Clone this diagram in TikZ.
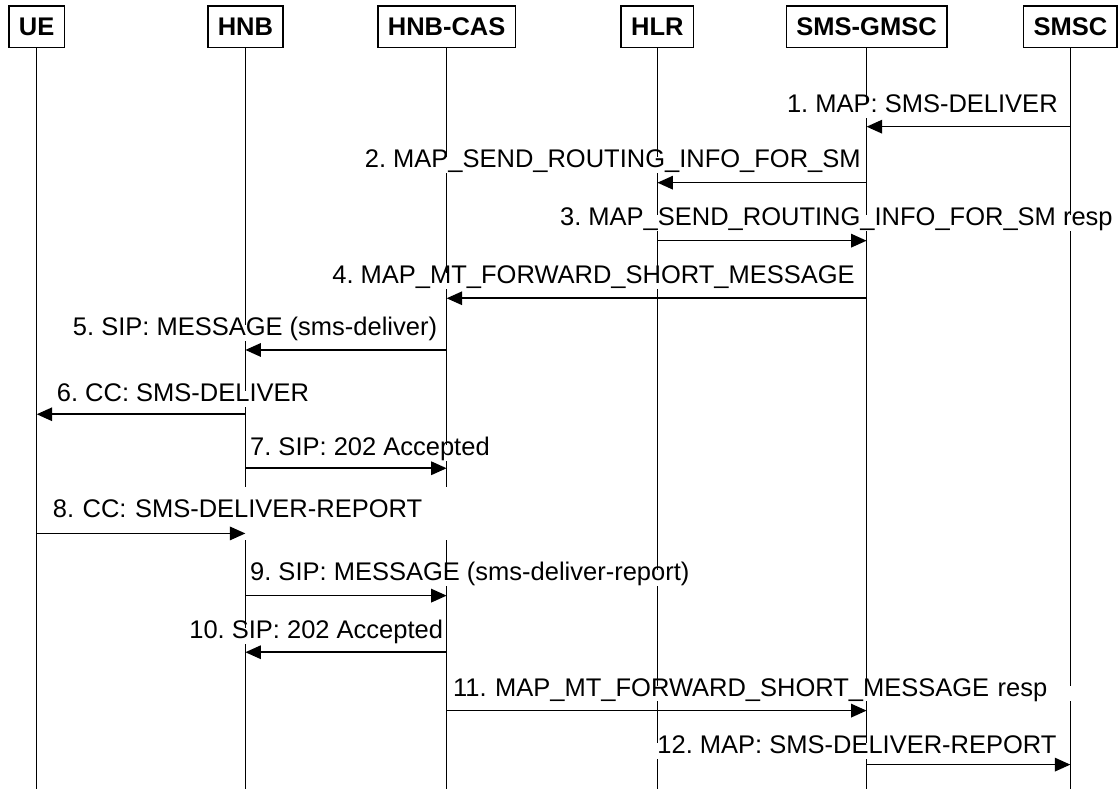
\documentclass[tikz,border=0pt]{standalone}
\usepackage{fontspec}
\setmainfont{Liberation Sans}
\usetikzlibrary{arrows.meta,positioning,backgrounds}
\frenchspacing

\begin{document}
\begin{tikzpicture}[
  x=1pt,y=-1pt,
  line cap=butt,
  >={Triangle[length=15.5pt,width=13.5pt]},
  every node/.style={font=\fontsize{25.5pt}{30pt}\selectfont},
  entity/.style={draw=black,line width=1.6pt,fill=white,inner xsep=10pt,inner ysep=0pt,
    minimum height=41.5pt,font=\fontsize{25.5pt}{30pt}\selectfont\bfseries},
  lifeline/.style={black,line width=1.6pt},
  message/.style={black,line width=1.6pt,->},
  msgtext/.style={fill=white,inner xsep=2pt,inner ysep=3pt,text height=.75em,text depth=.22em}
]
% Bounding box.
\path (0,0) rectangle (1118,789);

% The six entities.
\node[entity] (ue)   at (36.7,26.75)  {UE};
\node[entity] (hnb)  at (245.4,26.75) {HNB};
\node[entity] (cas)  at (446.7,26.75) {HNB-CAS};
\node[entity] (hlr)  at (657.5,26.75) {HLR};
\node[entity] (gmsc) at (866.7,26.75) {SMS-GMSC};
\node[entity] (smsc) at (1070.5,26.75) {SMSC};
\coordinate (bottom) at (0,789);

% Heights of the messages.
\coordinate (y1) at (0,126.7);
\coordinate (y2) at (0,182.7);
\coordinate (y3) at (0,240.7);
\coordinate (y4) at (0,298.3);
\coordinate (y5) at (0,350);
\coordinate (y6) at (0,414.3);
\coordinate (y7) at (0,468.3);
\coordinate (y8) at (0,533.5);
\coordinate (y9) at (0,595.7);
\coordinate (y10) at (0,652.3);
\coordinate (y11) at (0,710.7);
\coordinate (y12) at (0,764.7);

% Message texts; the white fill cuts the lifelines behind them.
\node[msgtext,anchor=base east] (t1) at (1060,112.5) {1. MAP: SMS-DELIVER};
\node[msgtext,anchor=base east] (t2) at (863,168) {2. MAP\_SEND\_ROUTING\_INFO\_FOR\_SM};
\node[msgtext,anchor=base east] (t3) at (1115,225.7) {3. MAP\_SEND\_ROUTING\_INFO\_FOR\_SM resp};
\node[msgtext,anchor=base east] (t4) at (857,284) {4. MAP\_MT\_FORWARD\_SHORT\_MESSAGE};
\node[msgtext,anchor=base east] (t5) at (439.3,335.7) {5. SIP: MESSAGE (sms-deliver)};
\node[msgtext,anchor=base west] (t6) at (54.7,401.7) {6. CC: SMS-DELIVER};
\node[msgtext,anchor=base west] (t7) at (248,455.7) {7. SIP: 202 Accepted};
\node[msgtext,anchor=base west,text width=400pt,align=left,
  text height=27pt,text depth=20pt] (t8) at (50.7,517.3) {8. CC: SMS-DELIVER-REPORT};
\node[msgtext,anchor=base west] (t9) at (248,580.7) {9. SIP: MESSAGE (sms-deliver-report)};
\node[msgtext,anchor=base east] (t10) at (445.3,639) {10. SIP: 202 Accepted};
\node[msgtext,anchor=base west,text width=620pt,align=left] (t11) at (451,696.3)
  {11. MAP\_MT\_FORWARD\_SHORT\_MESSAGE resp};
\node[msgtext,anchor=base west] (t12) at (655.3,754) {12. MAP: SMS-DELIVER-REPORT};

% Lifelines, behind the texts.
\begin{scope}[on background layer]
  \foreach \e in {ue,hnb,cas,hlr,gmsc,smsc}
    \draw[lifeline] (\e.south) -- (\e |- bottom);
\end{scope}

% Messages.
\draw[message] (smsc |- y1) -- (gmsc |- y1);
\draw[message] (gmsc |- y2) -- (hlr |- y2);
\draw[message] (hlr |- y3) -- (gmsc |- y3);
\draw[message] (gmsc |- y4) -- (cas |- y4);
\draw[message] (cas |- y5) -- (hnb |- y5);
\draw[message] (hnb |- y6) -- (ue |- y6);
\draw[message] (hnb |- y7) -- (cas |- y7);
\draw[message] (ue |- y8) -- (hnb |- y8);
\draw[message] (hnb |- y9) -- (cas |- y9);
\draw[message] (cas |- y10) -- (hnb |- y10);
\draw[message] (cas |- y11) -- (gmsc |- y11);
\draw[message] (gmsc |- y12) -- (smsc |- y12);
\end{tikzpicture}
\end{document}
